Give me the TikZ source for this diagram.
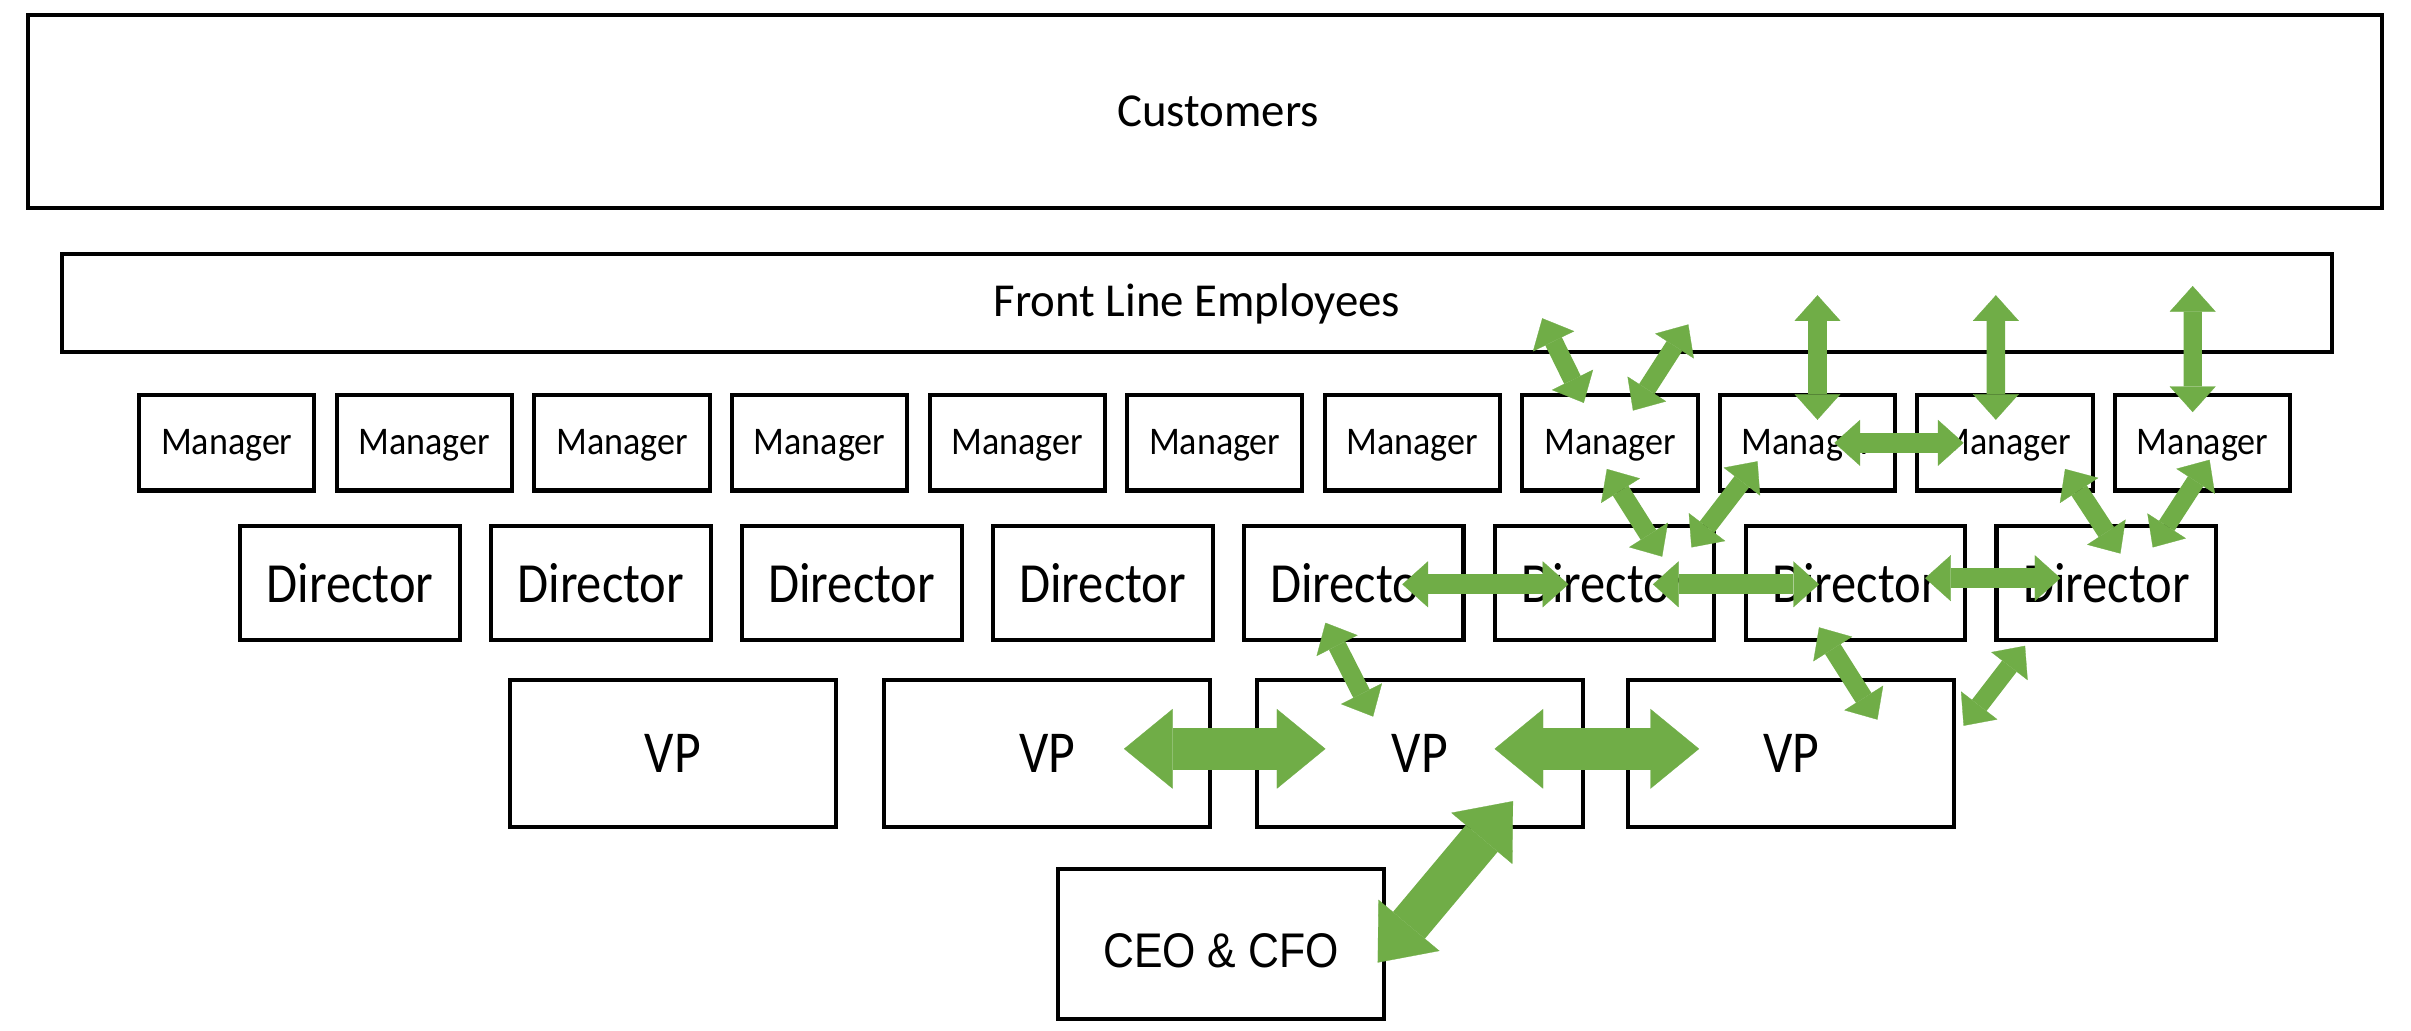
\documentclass[tikz,border=0pt]{standalone}
\usepackage{fontspec}
\setmainfont{Carlito}
\newfontfamily\fcust[FakeStretch=0.99]{Carlito}
\newfontfamily\fmgr[FakeStretch=0.92]{Carlito}
\newfontfamily\fdir[FakeStretch=0.89]{Carlito}
\newfontfamily\fvp[FakeStretch=0.87]{Carlito}
\newfontfamily\fceo[FakeStretch=0.88]{Liberation Sans}
\usetikzlibrary{arrows.meta,calc}
\definecolor{ogreen}{RGB}{112,173,71}
\newcommand{\lowered}[2]{\raisebox{-#1}[\height][\depth]{#2}}
\begin{document}
\begin{tikzpicture}[x=0.02cm,y=-0.02cm,
  box/.style={draw=black,line width=1.5pt,fill=white,inner sep=0pt,anchor=center},
  wide/.style={box,font=\fcust\fontsize{17.5}{20}\selectfont},
  mgr/.style={box,minimum width=2.28cm,minimum height=1.24cm,font=\fmgr\fontsize{14.5}{17}\selectfont},
  dir/.style={box,minimum width=2.86cm,minimum height=1.48cm,font=\fdir\fontsize{21}{24}\selectfont},
  vpbox/.style={box,minimum width=4.24cm,minimum height=1.92cm,font=\fvp\fontsize{22}{26}\selectfont},
  ceobox/.style={box,minimum width=4.24cm,minimum height=1.96cm,font=\fceo\fontsize{18}{22}\selectfont},
  bigarrow/.style={draw=ogreen,line width=15.4pt,
    arrows={Triangle[width=29.5pt,length=18pt,line width=0.1pt]-Triangle[width=29.5pt,length=18pt,line width=0.1pt]}},
  midarrow/.style={draw=ogreen,line width=7.3pt,
    arrows={Triangle[width=17pt,length=9.5pt,line width=0.1pt]-Triangle[width=17pt,length=9.5pt,line width=0.1pt]}},
  smallarrow/.style={draw=ogreen,line width=6.8pt,
    arrows={Triangle[width=17pt,length=9.5pt,line width=0.1pt]-Triangle[width=17pt,length=9.5pt,line width=0.1pt]}}
]
\useasboundingbox (0,0) rectangle (1568,670);

% top boxes
\node[wide,minimum width=30.62cm,minimum height=2.5cm] (cust) at (783.5,72.5) {\hspace*{10pt}Customers};
\node[wide,minimum width=29.54cm,minimum height=1.28cm] (fl) at (778.5,197) {\lowered{0.5pt}{Front Line Employees}};

% managers
\foreach \i in {1,...,11}{
  \node[mgr] (m\i) at ({147.5+(\i-1)*128.5},288) {\lowered{1pt}{Manager}};
}
% directors
\foreach \i in {1,...,8}{
  \node[dir] (d\i) at ({227.5+(\i-1)*163.2},379) {Director};
}
% VPs
\node[vpbox] (vp1) at (437.5,490) {VP};
\node[vpbox] (vp2) at (681,490) {VP};
\node[vpbox] (vp3) at (923.5,490) {VP};
\node[vpbox] (vp4) at (1165,490) {VP};
% CEO
\node[ceobox] (ceo) at (794,614) {\lowered{2.5pt}{CEO \& CFO}};

% big arrows
\draw[bigarrow] ($(vp2)+(50,-3)$) -- ($(vp3)+(-61.5,-3)$);
\draw[bigarrow] ($(vp3)+(48.5,-3)$) -- ($(vp4)+(-60,-3)$);
\draw[bigarrow] ($(ceo)+(102,12)$) -- ($(vp3)+(60.5,31)$);

% director horizontals
\draw[midarrow] ($(d5)+(31.7,1)$) -- ($(d6)+(-23.5,1)$);
\draw[midarrow] ($(d6)+(31.5,1)$) -- ($(d7)+(-23.7,1)$);
\draw[midarrow] ($(d7)+(45.3,-3)$) -- ($(d8)+(-29.9,-3)$);
% manager horizontal
\draw[midarrow] ($(m9)+(17.5,0)$) -- ($(m10)+(-27,0)$);

% director - VP
\draw[smallarrow] ($(d5)+(-18.3,26)$) -- ($(vp3)+(-30.5,-24)$);
\draw[smallarrow] ($(d7)+(-23.7,29)$) -- ($(vp4)+(56,-22)$);
\draw[smallarrow] ($(d8)+(-52.9,41)$) -- ($(vp4)+(112,-18)$);

% manager - director
\draw[smallarrow] ($(m8)+(-2,17)$) -- ($(d6)+(37.5,-17)$);
\draw[smallarrow] ($(m9)+(-32.5,12)$) -- ($(d6)+(56.5,-23)$);
\draw[smallarrow] ($(m10)+(39,17)$) -- ($(d8)+(9.1,-19)$);
\draw[smallarrow] ($(m11)+(4.5,11)$) -- ($(d8)+(30.1,-23)$);

% front line - manager
\draw[smallarrow] ($(fl)+(224.5,10)$) -- ($(m8)+(-17,-26)$);
\draw[smallarrow] ($(fl)+(319.5,14)$) -- ($(m8)+(15,-21)$);
\draw[smallarrow] ($(fl)+(403.5,-5)$) -- ($(m9)+(6.5,-15)$);
\draw[smallarrow] ($(fl)+(519.5,-5)$) -- ($(m10)+(-6,-15)$);
\draw[smallarrow] ($(fl)+(647.5,-11)$) -- ($(m11)+(-6.5,-20)$);
\end{tikzpicture}
\end{document}
